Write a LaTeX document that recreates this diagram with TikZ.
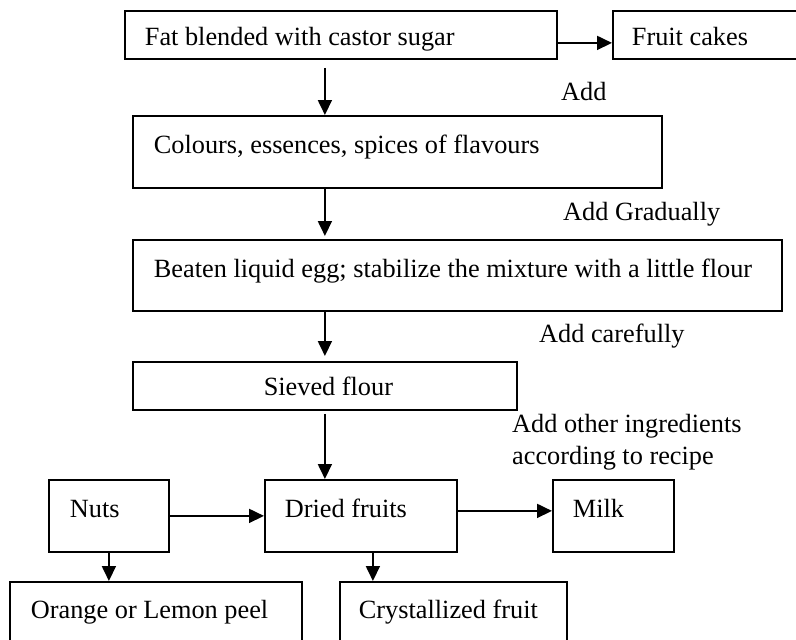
\documentclass[tikz,border=0pt]{standalone}
\usepackage{fontspec}
\setmainfont{Liberation Serif}
\usetikzlibrary{arrows.meta}
\begin{document}
\begin{tikzpicture}[x=1pt,y=-1pt,
  font=\fontsize{26.3}{32}\selectfont,
  bx/.style={draw, line width=1.8pt, anchor=north west, align=flush left, inner ysep=0pt},
  arr/.style={line width=1.8pt, -{Triangle[length=15pt,width=14pt]}},
  lbl/.style={anchor=base west, inner sep=0pt}]
\useasboundingbox (0,0) rectangle (796,640);
\clip (0,0) rectangle (796,640);
% boxes: width = text width + 2*inner xsep ; height = text height + text depth
\node[bx, inner xsep=20pt, text width=392pt, text height=35pt, text depth=13pt] (fat) at (124,10) {Fat blended with castor sugar};
\node[bx, inner xsep=19pt, text width=160pt, text height=35pt, text depth=13pt] (fruit) at (612,10) {Fruit cakes};
\node[bx, inner xsep=21pt, text width=487pt, text height=38pt, text depth=34pt] (col) at (132,115) {Colours, essences, spices of flavours};
\node[bx, inner xsep=21pt, text width=607pt, text height=38pt, text depth=33pt] (egg) at (132,239) {Beaten liquid egg; stabilize the mixture with a little flour};
\node[bx, align=flush center, inner xsep=4pt, text width=376pt, text height=34pt, text depth=14pt] (sieve) at (132,361) {\hspace*{7pt}Sieved flour};
\node[bx, inner xsep=21pt, text width=78pt, text height=38pt, text depth=34pt] (nuts) at (48,479) {Nuts};
\node[bx, inner xsep=20pt, text width=152pt, text height=38pt, text depth=34pt] (dried) at (264,479) {Dried fruits};
\node[bx, inner xsep=20pt, text width=81pt, text height=38pt, text depth=34pt] (milk) at (552,479) {Milk};
\node[bx, inner xsep=21pt, text width=250pt, text height=37pt, text depth=50pt] (orange) at (9,581) {Orange or Lemon peel};
\node[bx, inner xsep=19pt, text width=189pt, text height=37pt, text depth=50pt] (cryst) at (339,581) {Crystallized fruit};
% labels
\node[lbl] (add) at (561,100) {Add};
\node[lbl] (addg) at (563,220) {Add Gradually};
\node[lbl] (addc) at (539,342) {Add carefully};
\node[lbl] (addo1) at (512,432) {Add other ingredients};
\node[lbl] (addo2) at (512,464) {according to recipe};
% connectors
\draw[arr, shorten <=8pt] (sieve.north |- fat.south) -- (sieve.north |- col.north);
\draw[arr, shorten >=3pt] (sieve.north |- col.south) -- (sieve.north |- egg.north);
\draw[arr, shorten >=5pt] (sieve.north |- egg.south) -- (sieve.north);
\draw[arr, shorten <=3pt] (sieve.south) -- (sieve.south |- dried.north);
\draw[arr] ([yshift=-8pt]fat.east) -- ([yshift=-8pt]fat.east -| fruit.west);
\draw[arr] (nuts.east) -- (dried.west);
\draw[arr] ([yshift=5pt]dried.east) -- ([yshift=5pt]dried.east -| milk.west);
\draw[arr] (nuts.south) -- (nuts.south |- orange.north);
\draw[arr] ([xshift=12pt]dried.south) -- ([xshift=12pt]dried.south |- cryst.north);
\end{tikzpicture}
\end{document}
